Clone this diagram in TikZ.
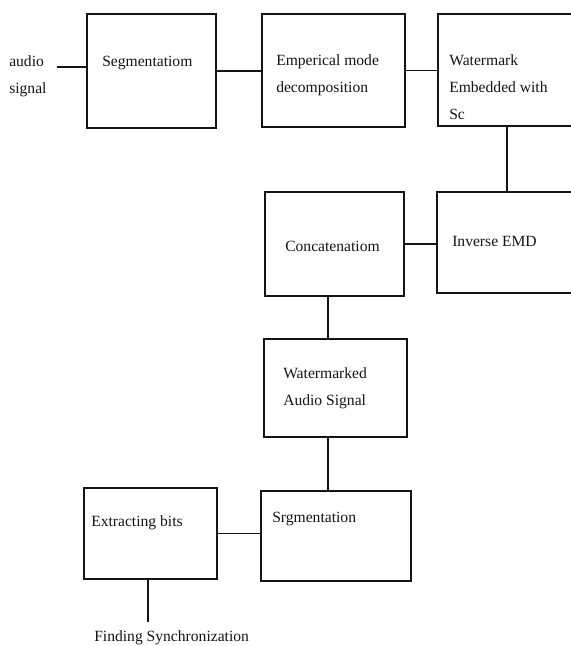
\documentclass[tikz,border=0pt]{standalone}
\usepackage{fontspec}
\setmainfont{Liberation Serif}
\usetikzlibrary{positioning,calc}
\definecolor{ink}{RGB}{20,20,20}
\tikzset{
  blk/.style={draw=ink,line width=1.2pt,inner sep=0pt},
  wire/.style={draw=ink,line width=1pt},
  lbl/.style={anchor=west,align=left,inner sep=0pt,text=ink,
    font=\fontsize{11.7}{20.25}\selectfont},
}
\begin{document}
\begin{tikzpicture}[x=0.75pt,y=-0.75pt]
  \useasboundingbox (0,0) rectangle (571,646);
  % embedding chain
  \node[blk,minimum width=96.75pt,minimum height=85.5pt] (seg) at (151.5,71) {};
  \node[blk,minimum width=107.25pt,minimum height=84.75pt] (emd) at (333.5,70.5) {};
  \node[blk,minimum width=103.5pt,minimum height=84pt] (wm) at (507,70) {};
  \node[blk,minimum width=105pt,minimum height=75.75pt] (inv) at (507,242.5) {};
  \node[blk,minimum width=104.25pt,minimum height=78pt] (cat) at (334.5,244) {};
  \node[blk,minimum width=107.25pt,minimum height=73.5pt] (wms) at (335.5,388) {};
  % extraction
  \node[blk,minimum width=112.5pt,minimum height=67.5pt] (srg) at (336,536) {};
  \node[blk,minimum width=99.75pt,minimum height=68.25pt] (ext) at (150.5,533.5) {};

  \node[lbl] (audio) at (9,76.5) {audio\\signal};
  \node[lbl] (segt) at (102,63) {Segmentatiom};
  \node[lbl] (emdt) at (276,75.5) {Emperical mode\\decomposition};
  \node[lbl] (wmt) at (449,87) {Watermark\\Embedded with\\Sc};
  \node[lbl] (invt) at (452,241) {Inverse EMD};
  \node[lbl] (catt) at (285,246) {Concatenatiom};
  \node[lbl] (wmst) at (283,388.5) {Watermarked\\Audio Signal};
  \node[lbl] (srgt) at (272,519) {Srgmentation};
  \node[lbl] (extt) at (91,523) {Extracting bits};
  \node[lbl,anchor=base west,inner ysep=6.3pt] (fs) at (94,641) {Finding Synchronization};

  \coordinate (in) at (57,67);
  \draw[wire] (in) -- (in -| seg.west);
  \draw[wire] (seg.east) -- (seg.east -| emd.west);
  \draw[wire] (emd.east) -- (emd.east -| wm.west);
  \draw[wire] (wm.south) -- (inv.north);
  \draw[wire] (cat.east) -- (cat.east -| inv.west);
  \draw[wire] ([xshift=-5pt]cat.south) -- ([xshift=-5pt]cat.south |- wms.north);
  \draw[wire] ([xshift=-5.6pt]wms.south) -- ([xshift=-5.6pt]wms.south |- srg.north);
  \draw[wire] (ext.east) -- (ext.east -| srg.west);
  \draw[wire] ([xshift=-2pt]ext.south) -- ([xshift=-2pt]ext.south |- fs.north);
\end{tikzpicture}
\end{document}
